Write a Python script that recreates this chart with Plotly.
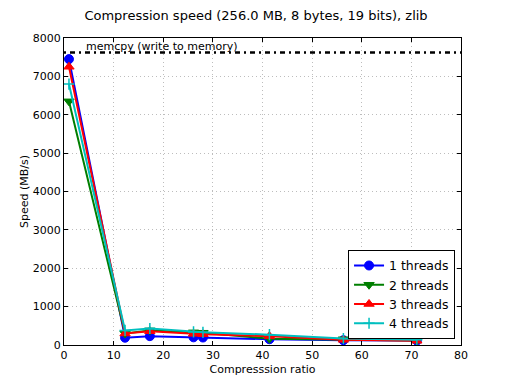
import plotly.graph_objects as go

ratio = [1.0, 12.3, 17.3, 26.1, 28.0, 41.4, 56.3, 71.1]
speed_1 = [7450, 190, 230, 200, 195, 150, 125, 115]
speed_2 = [6350, 300, 380, 330, 320, 165, 150, 120]
speed_3 = [7250, 300, 360, 290, 280, 230, 135, 110]
speed_4 = [6800, 380, 430, 340, 330, 270, 170, 140]
memcpy_speed = 7620
series = [
    ("1 threads", speed_1, "#0000ff", "circle"),
    ("2 threads", speed_2, "#007f00", "triangle-down"),
    ("3 threads", speed_3, "#ff0000", "triangle-up"),
    ("4 threads", speed_4, "#00bfbf", "cross-thin"),
]

fig = go.Figure()
fig.add_trace(go.Scatter(x=[0, 80], y=[memcpy_speed, memcpy_speed], mode="lines",
                         line=dict(color="black", width=2.5, dash="2px,4px,5px,4px"),
                         showlegend=False, hoverinfo="skip"))
for name, ys, color, sym in series:
    mk = dict(symbol=sym, size=9, color=color, line=dict(color=color, width=1))
    if sym == "cross-thin":
        mk = dict(symbol=sym, size=8, color=color, line=dict(color=color, width=1.5))
    fig.add_trace(go.Scatter(x=ratio, y=ys, name=name, mode="lines+markers",
                             line=dict(color=color, width=2), marker=mk))

fig.add_annotation(x=4, y=memcpy_speed, xref="x", yref="y", text="memcpy (write to memory)",
                   showarrow=False, xanchor="left", yanchor="bottom", yshift=-2,
                   font=dict(size=11, color="black"))

axis_common = dict(showline=True, linecolor="black", linewidth=1, mirror="ticks",
                   ticks="inside", ticklen=4, tickcolor="black", automargin=False,
                   showgrid=True, gridcolor="#bdbdbd", griddash="1px,3px", gridwidth=1,
                   zeroline=False, tickfont=dict(size=11, color="black"))
fig.update_xaxes(range=[0, 80], dtick=10, title=dict(text="Compresssion ratio", font=dict(size=11), standoff=4), **axis_common)
fig.update_yaxes(range=[0, 8000], dtick=1000, title=dict(text="Speed (MB/s)", font=dict(size=11), standoff=1), **axis_common)

fig.update_layout(
    width=504, height=376,
    margin=dict(l=56, r=51, t=30, b=39),
    paper_bgcolor="white", plot_bgcolor="white",
    font=dict(family="DejaVu Sans", color="black"),
    title=dict(text="Compression speed (256.0 MB, 8 bytes, 19 bits), zlib",
               x=(256 - 8) / 504, xanchor="center", y=1 - 7 / 376, yanchor="middle", font=dict(size=13)),
    legend=dict(x=0.985, y=0.02, xanchor="right", yanchor="bottom",
                bordercolor="black", borderwidth=1, bgcolor="white",
                font=dict(size=12.5), tracegroupgap=0, itemwidth=30),
)
fig.write_html("out.html")
